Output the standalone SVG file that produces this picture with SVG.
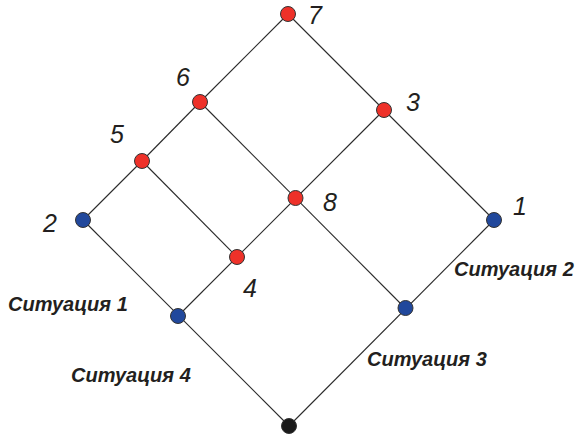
<svg xmlns="http://www.w3.org/2000/svg" width="581" height="435" viewBox="0 0 581 435">
  <style>
    .edge { stroke: #2a2a2a; stroke-width: 1.1; fill: none; }
    .node { stroke: #333; stroke-width: 1; }
    .red { fill: #ee3129; }
    .blue { fill: #21489c; }
    .black { fill: #1a1a1a; }
    .num { font-family: "Liberation Sans", Arial, sans-serif; font-style: italic; font-size: 25px; fill: #231f20; }
    .sit { font-family: "Liberation Sans", Arial, sans-serif; font-style: italic; font-weight: bold; font-size: 20px; fill: #231f20; }
  </style>
  <rect width="581" height="435" fill="#ffffff"/>
  <g id="connectors">
    <line class="edge" x1="288" y1="14" x2="200" y2="102"/>
    <line class="edge" x1="200" y1="102" x2="142" y2="161"/>
    <line class="edge" x1="142" y1="161" x2="83" y2="220"/>
    <line class="edge" x1="288" y1="14" x2="384" y2="110"/>
    <line class="edge" x1="384" y1="110" x2="494" y2="220"/>
    <line class="edge" x1="200" y1="102" x2="405" y2="308"/>
    <line class="edge" x1="142" y1="161" x2="237" y2="257"/>
    <line class="edge" x1="384" y1="110" x2="178" y2="316"/>
    <line class="edge" x1="83" y1="220" x2="289" y2="426"/>
    <line class="edge" x1="494" y1="220" x2="289" y2="426"/>
  </g>
  <g id="n7"><circle class="node red" cx="288" cy="14" r="7.5"/><text class="num" x="308" y="24">7</text></g>
  <g id="n6"><circle class="node red" cx="200" cy="102" r="7.5"/><text class="num" x="176" y="86">6</text></g>
  <g id="n5"><circle class="node red" cx="142" cy="161" r="7.5"/><text class="num" x="110" y="143">5</text></g>
  <g id="n3"><circle class="node red" cx="384" cy="110" r="7.5"/><text class="num" x="406" y="111">3</text></g>
  <g id="n8"><circle class="node red" cx="295.5" cy="198" r="7.5"/><text class="num" x="323" y="211">8</text></g>
  <g id="n2"><circle class="node blue" cx="83" cy="220" r="7.5"/><text class="num" x="43" y="232">2</text></g>
  <g id="n1"><circle class="node blue" cx="494" cy="220" r="7.5"/><text class="num" x="513" y="215">1</text></g>
  <g id="n4"><circle class="node red" cx="237" cy="257" r="7.5"/><text class="num" x="243" y="297">4</text></g>
  <g id="s1"><circle class="node blue" cx="178" cy="316" r="7.5"/><text class="sit" x="8" y="311">Ситуация 1</text></g>
  <g id="s23"><circle class="node blue" cx="405.5" cy="308" r="7.5"/><text class="sit" x="454" y="276">Ситуация 2</text><text class="sit" x="367" y="366">Ситуация 3</text></g>
  <g id="bottom"><circle class="node black" cx="289" cy="426" r="7.5"/><text class="sit" x="71" y="382">Ситуация 4</text></g>
</svg>
